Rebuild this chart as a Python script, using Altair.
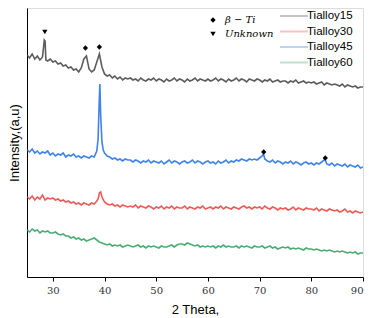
import altair as alt
import pandas as pd

# 2-theta grid (degrees), 0.5 step from 25 to 90
two_theta = [25 + 0.5 * i for i in range(131)]

series_names = ["Tialloy15", "Tialloy30", "Tialloy45", "Tialloy60"]
series_colors = ["#3f3f3f", "#e8403c", "#1f6fe6", "#2aa05a"]

tialloy15 = [
    222, 219, 223, 218, 221, 217, 220, 236, 216, 218,
    215, 216, 213, 214, 211, 212, 209, 210, 207, 208,
    205, 209, 218, 221, 208, 205, 207, 215, 223, 210,
    203, 201, 202, 199, 201, 198, 200, 197, 199, 198,
    199, 197, 198, 196, 199, 197, 196, 198, 197, 199,
    196, 198, 197, 195, 198, 196, 197, 199, 196, 198,
    197, 195, 198, 196, 197, 199, 196, 198, 197, 196,
    198, 196, 197, 199, 196, 198, 197, 195, 198, 196,
    197, 199, 196, 198, 197, 195, 198, 197, 196, 198,
    197, 195, 197, 196, 198, 195, 196, 197, 195, 196,
    196, 194, 196, 195, 197, 194, 195, 196, 194, 195,
    194, 195, 193, 194, 195, 192, 194, 193, 192, 193,
    192, 191, 193, 190, 192, 191, 190, 191, 189, 190,
    190,
]
tialloy30 = [
    80, 78, 81, 77, 80, 78, 82, 77, 79, 78,
    79, 77, 78, 76, 77, 75, 76, 74, 75, 73,
    74, 72, 74, 73, 72, 74, 73, 76, 84, 80,
    75, 73, 72, 73, 71, 72, 70, 72, 71, 70,
    71, 70, 72, 69, 71, 70, 69, 71, 70, 68,
    70, 69, 71, 68, 70, 69, 71, 68, 70, 69,
    69, 71, 68, 70, 69, 68, 70, 69, 71, 68,
    69, 70, 68, 70, 69, 71, 68, 70, 69, 68,
    70, 69, 68, 70, 71, 69, 70, 68, 70, 69,
    70, 68, 71, 69, 68, 70, 69, 67, 69, 68,
    69, 67, 68, 70, 67, 69, 68, 67, 69, 68,
    68, 67, 69, 66, 68, 67, 66, 68, 67, 66,
    67, 65, 66, 68, 65, 66, 64, 66, 65, 64,
    65,
]
tialloy45 = [
    127, 125, 128, 124, 126, 123, 125, 124, 126, 122,
    124, 121, 123, 122, 124, 120, 122, 121, 123, 120,
    121, 119, 121, 120, 119, 121, 120, 126, 180, 135,
    124, 121, 120, 118, 119, 117, 118, 116, 118, 117,
    117, 115, 117, 116, 114, 116, 115, 117, 114, 116,
    115, 114, 116, 113, 115, 117, 114, 116, 115, 113,
    115, 116, 114, 115, 117, 114, 116, 115, 113, 115,
    116, 114, 115, 113, 116, 114, 115, 117, 114, 116,
    115, 117, 116, 118, 117, 116, 118, 117, 118, 117,
    119, 121, 118, 116, 115, 117, 114, 116, 115, 113,
    115, 114, 116, 113, 115, 114, 112, 114, 115, 113,
    114, 112, 114, 113, 115, 117, 113, 112, 114, 111,
    113, 112, 111, 113, 110, 112, 111, 110, 112, 109,
    110,
]
tialloy60 = [
    47, 45, 48, 46, 47, 44, 46, 45, 46, 44,
    44, 45, 43, 42, 43, 41, 41, 39, 40, 38,
    39, 37, 38, 36, 37, 38, 39, 37, 35, 34,
    33, 32, 33, 31, 32, 31, 32, 30, 31, 32,
    31, 30, 31, 32, 30, 31, 29, 31, 30, 31,
    30, 29, 31, 30, 30, 31, 32, 30, 32, 33,
    33, 32, 34, 33, 32, 31, 32, 30, 31, 30,
    31, 30, 31, 29, 31, 30, 32, 30, 31, 30,
    30, 31, 29, 31, 30, 31, 30, 29, 31, 30,
    30, 31, 29, 30, 31, 29, 30, 28, 29, 30,
    29, 30, 28, 29, 28, 29, 28, 27, 29, 28,
    28, 27, 28, 27, 26, 27, 26, 27, 26, 25,
    26, 25, 26, 25, 24, 25, 24, 25, 23, 24,
    24,
]

# extra points resolving the sharp peaks
extra_15 = {28.35: 237, 28.65: 217}
extra_30 = {39.25: 85, 38.75: 78}
extra_45 = {38.75: 138, 39.1: 193, 39.25: 162, 39.75: 127, 70.75: 123, 82.7: 117}
extra_60 = {}

# phase markers
marker_x = [28.45, 36.3, 39.0, 70.8, 82.7]
marker_y = [245, 229, 230, 125, 119]
marker_phase = ["Unknown", "β − Ti", "β − Ti", "β − Ti", "β − Ti"]

x_ticks = [30, 35, 40, 45, 50, 55, 60, 65, 70, 75, 80, 85, 90]

rows = []
for name, vals, extra in zip(series_names, [tialloy15, tialloy30, tialloy45, tialloy60],
                             [extra_15, extra_30, extra_45, extra_60]):
    pts = list(zip(two_theta, vals)) + list(extra.items())
    pts.sort()
    for i, (t, v) in enumerate(pts):
        rows.append({"theta": t, "I": v, "sample": name, "order": i})
df = pd.DataFrame(rows)
mk = pd.DataFrame({"theta": marker_x, "I": marker_y, "phase": marker_phase})

xscale = alt.Scale(domain=[25, 90], nice=False)
yscale = alt.Scale(domain=[0, 269], nice=False)

lines = alt.Chart(df).mark_line(strokeWidth=1.6, opacity=0.85, clip=True).encode(
    x=alt.X("theta:Q", scale=xscale, title="2 Theta,",
            axis=alt.Axis(values=x_ticks,
                          labelExpr="datum.value % 10 == 0 ? datum.label : ''",
                          tickSize={"condition": {"test": "datum.value % 10 == 0", "value": 4}, "value": 2},
                          grid=False, domainColor="black", tickColor="black",
                          labelFont="DejaVu Serif", labelFontSize=10, labelColor="#333",
                          labelPadding=4,
                          titleFont="Liberation Sans", titleFontSize=13, titleFontWeight="normal",
                          titleColor="black", titlePadding=8)),
    y=alt.Y("I:Q", scale=yscale, title="Intensity,(a,u)",
            axis=alt.Axis(labels=False, ticks=False, grid=False, domainColor="black",
                          titleFont="Liberation Sans", titleFontSize=13, titleFontWeight="normal",
                          titleColor="black", titlePadding=6)),
    color=alt.Color("sample:N", scale=alt.Scale(domain=series_names, range=series_colors),
                    legend=alt.Legend(title=None, orient="none", legendX=259, legendY=0,
                                      symbolType="M-2,0L2,0", symbolSize=196, symbolStrokeWidth=2,
                                      symbolOpacity=0.3, labelFont="Liberation Sans",
                                      labelFontSize=11.5, labelColor="black", labelOffset=5,
                                      rowPadding=1.5, padding=0)),
    detail="sample:N",
    order="order:Q",
)

markers = alt.Chart(mk).mark_point(filled=True, color="black", size=28, opacity=1).encode(
    x=alt.X("theta:Q", scale=xscale),
    y=alt.Y("I:Q", scale=yscale),
    shape=alt.Shape("phase:N", scale=alt.Scale(domain=["β − Ti", "Unknown"],
                                               range=["diamond", "triangle-down"]),
                    legend=alt.Legend(title=None, orient="none", legendX=181, legendY=7,
                                      symbolFillColor="black", symbolStrokeColor="black",
                                      symbolSize=28, labelFont="DejaVu Serif",
                                      labelFontStyle="italic", labelFontSize=10,
                                      labelColor="black", labelOffset=7, rowPadding=2,
                                      padding=0)),
)

chart = alt.layer(lines, markers).resolve_legend(color="independent", shape="independent").properties(
    width=336, height=269, padding={"left": 0, "top": 0, "right": 0, "bottom": 0}
).configure_view(stroke="black", strokeWidth=1).configure(background="white")

chart.save("out.html", embed_options={"renderer": "svg", "actions": False})
